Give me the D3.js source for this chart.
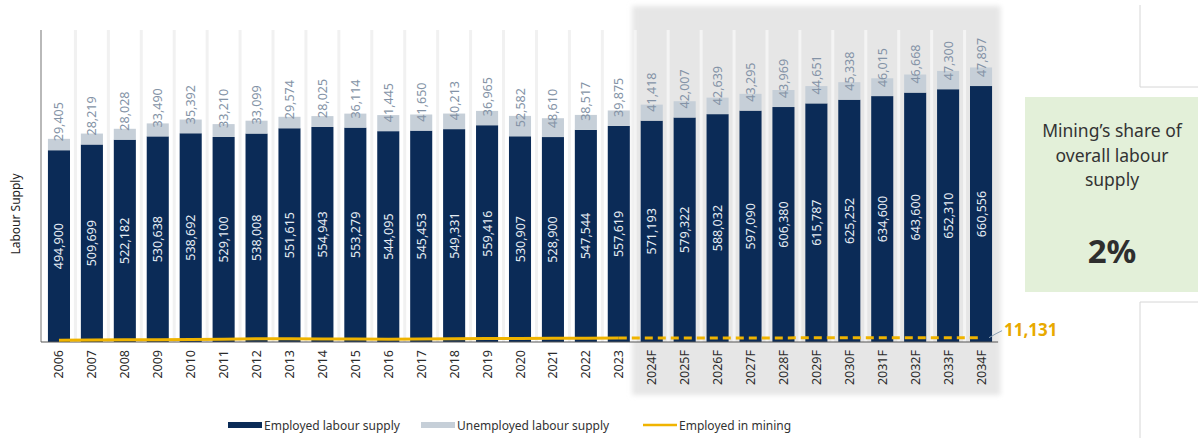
<!DOCTYPE html>
<html>
<head>
<meta charset="utf-8">
<script src="https://cdn.jsdelivr.net/npm/d3@7"></script>
<style>
  html, body { margin: 0; padding: 0; background: #ffffff; }
  svg { display: block; font-family: "Noto Sans", "Open Sans", sans-serif; }
</style>
</head>
<body>
<svg id="chart" width="1198" height="438"></svg>
<script>
// Labour supply by year, with forecasts from 2024
const years = ["2006","2007","2008","2009","2010","2011","2012","2013","2014","2015",
  "2016","2017","2018","2019","2020","2021","2022","2023",
  "2024F","2025F","2026F","2027F","2028F","2029F","2030F","2031F","2032F","2033F","2034F"];

const employed = [494900,509699,522182,530638,538692,529100,538008,551615,554943,553279,
  544095,545453,549331,559416,530907,528900,547544,557619,
  571193,579322,588032,597090,606380,615787,625252,634600,643600,652310,660556];

const unemployed = [29405,28219,28028,33490,35392,33210,33099,29574,28025,36114,
  41445,41650,40213,36965,52582,48610,38517,39875,
  41418,42007,42639,43295,43969,44651,45338,46015,46668,47300,47897];

// Employed in mining (estimated except for the final labelled value)
const mining = [4800,5400,6100,6000,6600,7400,8200,8300,7900,7500,
  7400,7700,8200,8800,9100,9500,9900,10200,
  10300,10380,10460,10540,10620,10700,10790,10880,10970,11050,11131];

const firstForecast = "2024F";
const shareLabel = "2%";

const svg = d3.select("#chart");
const fmt = d3.format(",");

const x = d3.scaleBand().domain(years).range([42.5, 997.5]).paddingInner(0.33).paddingOuter(0.165);
const y = d3.scaleLinear().domain([0, 800000]).range([342, 32]);

const rows = years.map((yr, i) => ({ yr, emp: employed[i], unemp: unemployed[i], mine: mining[i] }));
const forecastIdx = years.indexOf(firstForecast);

// Forecast shading
const fx0 = x(firstForecast) - (x.step() - x.bandwidth()) / 2 - 3;
const fx1 = x(years[years.length - 1]) + x.bandwidth() + (x.step() - x.bandwidth()) / 2 + 3;
const defs = svg.append("defs");
const blur = defs.append("filter").attr("id", "soft").attr("x", "-5%").attr("y", "-5%").attr("width", "110%").attr("height", "110%");
blur.append("feGaussianBlur").attr("stdDeviation", 2.5);
svg.append("rect")
  .attr("x", fx0).attr("y", 6).attr("width", fx1 - fx0).attr("height", 389)
  .attr("fill", "#e6e6e6").attr("filter", "url(#soft)");

// Light column separators
svg.append("g").selectAll("rect.sep").data(years.slice(1)).join("rect")
  .attr("x", d => x(d) - (x.step() - x.bandwidth()) / 2 - 1.5)
  .attr("y", 30).attr("width", 3).attr("height", 312)
  .attr("fill", (d, i) => (i + 1) >= forecastIdx ? "#f4f4f4" : "#f1f1f1");

// Stacked bars
const g = svg.append("g");
g.selectAll("rect.emp").data(rows).join("rect")
  .attr("x", d => x(d.yr)).attr("width", x.bandwidth())
  .attr("y", d => y(d.emp)).attr("height", d => y(0) - y(d.emp))
  .attr("fill", "#0b2b57");
g.selectAll("rect.unemp").data(rows).join("rect")
  .attr("x", d => x(d.yr)).attr("width", x.bandwidth())
  .attr("y", d => y(d.emp + d.unemp)).attr("height", d => y(d.emp) - y(d.emp + d.unemp))
  .attr("fill", "#c6cfd8");

// Value labels
g.selectAll("text.emp").data(rows).join("text")
  .attr("transform", d => `translate(${x(d.yr) + x.bandwidth() / 2 + 4.5},${(y(d.emp) + y(0)) / 2}) rotate(-90)`)
  .attr("text-anchor", "middle")
  .attr("font-size", 12.5).attr("fill", "#e6edf4")
  .text(d => fmt(d.emp));
g.selectAll("text.unemp").data(rows).join("text")
  .attr("transform", d => `translate(${x(d.yr) + x.bandwidth() / 2 + 4.5},${y(d.emp) - 9}) rotate(-90)`)
  .attr("text-anchor", "start")
  .attr("font-size", 12.5).attr("fill", "#8493a6")
  .text(d => fmt(d.unemp));

// Axes
svg.append("line").attr("x1", 41).attr("x2", 41).attr("y1", 30).attr("y2", 342)
  .attr("stroke", "#8a8a8a").attr("stroke-width", 1.2);
const xAxis = svg.append("g").attr("transform", `translate(0,342)`)
  .call(d3.axisBottom(x).tickSize(0).tickPadding(0));
xAxis.select(".domain").attr("stroke", "#555").attr("stroke-width", 1.2)
  .attr("d", `M41,0H${x(years[years.length - 1]) + x.bandwidth() + 6}`);
xAxis.selectAll(".tick text")
  .attr("transform", "translate(4.5,8) rotate(-90)")
  .attr("text-anchor", "end").attr("dy", 0).attr("y", 0).attr("x", 0)
  .attr("font-size", 12.5).attr("fill", "#2b2b2b")
  .attr("font-family", "\"Noto Sans\", sans-serif");

// Mining line: actuals solid, forecast dashed
const line = d3.line().x(d => x(d.yr) + x.bandwidth() / 2).y(d => y(d.mine));
svg.append("path").datum(rows.slice(0, forecastIdx))
  .attr("d", line).attr("fill", "none").attr("stroke", "#f0b400").attr("stroke-width", 3);
svg.append("path").datum(rows.slice(forecastIdx - 1))
  .attr("d", line).attr("fill", "none").attr("stroke", "#f0b400").attr("stroke-width", 3)
  .attr("stroke-dasharray", "8,5");

// End label for mining
const last = rows[rows.length - 1];
const lx = x(last.yr) + x.bandwidth() / 2, ly = y(last.mine);
svg.append("path")
  .attr("d", `M${lx + 8},${ly} L${lx + 15},${ly - 4} L${lx + 21},${ly - 7}`)
  .attr("fill", "none").attr("stroke", "#8aa0b4").attr("stroke-width", 1);
svg.append("text").attr("x", lx + 23).attr("y", ly - 2)
  .attr("font-size", 17).attr("font-weight", "bold").attr("fill", "#e8a900")
  .text(fmt(last.mine));

// Y-axis title
svg.append("text").attr("transform", "translate(20,214) rotate(-90)")
  .attr("text-anchor", "middle").attr("font-size", 12).attr("fill", "#222")
  .text("Labour Supply");

// Legend
const legend = svg.append("g").attr("transform", "translate(0,425)");
const items = [
  { label: "Employed labour supply", x: 228, type: "rect", color: "#0b2b57" },
  { label: "Unemployed labour supply", x: 421, type: "rect", color: "#c6cfd8" },
  { label: "Employed in mining", x: 643, type: "line", color: "#f0b400" }
];
items.forEach(it => {
  if (it.type === "rect") {
    legend.append("rect").attr("x", it.x).attr("y", -3).attr("width", 34).attr("height", 6).attr("fill", it.color);
  } else {
    legend.append("line").attr("x1", it.x).attr("x2", it.x + 34).attr("y1", 0).attr("y2", 0)
      .attr("stroke", it.color).attr("stroke-width", 2.5);
  }
  legend.append("text").attr("x", it.x + 36).attr("y", 4.5)
    .attr("font-size", 12).attr("fill", "#333").text(it.label);
});

// Share panel
svg.append("rect").attr("x", 1025).attr("y", 97).attr("width", 180).attr("height", 195)
  .attr("fill", "#e3f0d9");
const panel = svg.append("g").attr("text-anchor", "middle").attr("fill", "#333");
["Mining\u2019s share of", "overall labour", "supply"].forEach((t, i) => {
  panel.append("text").attr("x", 1112).attr("y", 137 + i * 24.5).attr("font-size", 17.5).text(t);
});
panel.append("text").attr("x", 1112).attr("y", 263).attr("font-size", 33)
  .attr("font-weight", "bold").attr("fill", "#2e2e2e").text(shareLabel);

// Neighbouring panel outlines
svg.append("path").attr("d", "M1140,5V87H1198").attr("fill", "none").attr("stroke", "#d6d6d6").attr("stroke-width", 1);
svg.append("path").attr("d", "M1198,302H1140V438").attr("fill", "none").attr("stroke", "#d6d6d6").attr("stroke-width", 1);
</script>
</body>
</html>
